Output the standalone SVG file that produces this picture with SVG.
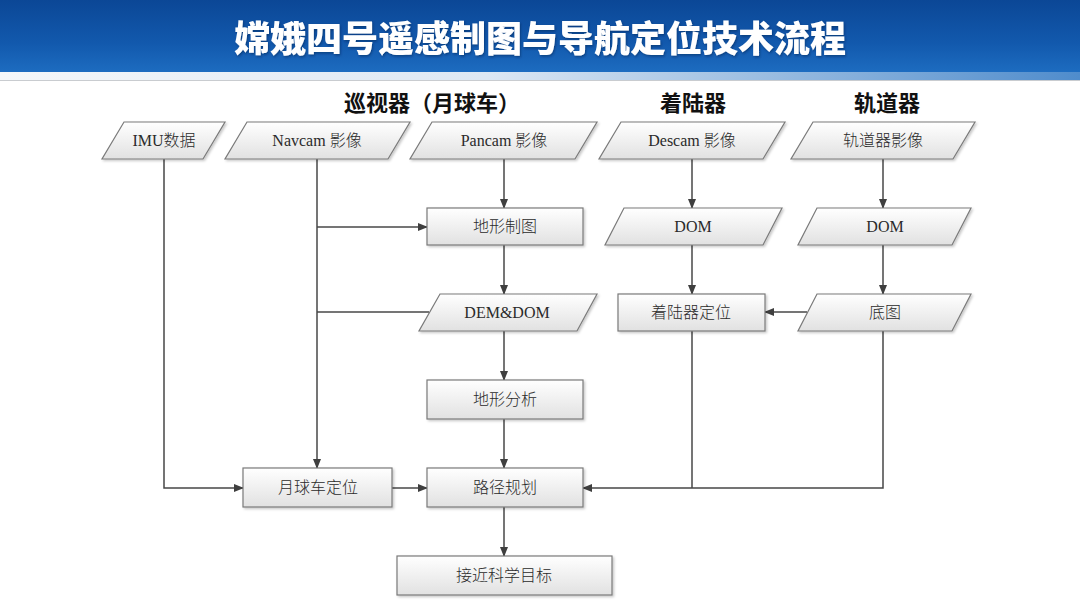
<svg xmlns="http://www.w3.org/2000/svg" width="1080" height="608" viewBox="0 0 1080 608">
<defs>
<linearGradient id="hdr" x1="0" y1="0" x2="0" y2="1">
<stop offset="0" stop-color="#0b4796"/>
<stop offset="0.6" stop-color="#1259ad"/>
<stop offset="1" stop-color="#1d6cc0"/>
</linearGradient>
<linearGradient id="strip" x1="0" y1="0" x2="1" y2="0">
<stop offset="0" stop-color="#f4f7fa"/>
<stop offset="0.45" stop-color="#dde8f4"/>
<stop offset="1" stop-color="#4f8ccc"/>
</linearGradient>
<linearGradient id="box" x1="0" y1="0" x2="0" y2="1">
<stop offset="0" stop-color="#ffffff"/>
<stop offset="1" stop-color="#e1e1e1"/>
</linearGradient>
<filter id="sh" x="-10%" y="-20%" width="125%" height="150%">
<feDropShadow dx="1.5" dy="1.5" stdDeviation="1.2" flood-color="#000" flood-opacity="0.22"/>
</filter>
<filter id="tsh" x="-5%" y="-20%" width="110%" height="150%">
<feDropShadow dx="1" dy="1.5" stdDeviation="1" flood-color="#002050" flood-opacity="0.5"/>
</filter>
<marker id="arr" markerWidth="10" markerHeight="10" refX="9" refY="5" orient="auto" markerUnits="userSpaceOnUse">
<path d="M0,1 L10,5 L0,9 Z" fill="#3f3f3f"/>
</marker>
<style>
.b{fill:url(#box);stroke:#7a7a7a;stroke-width:1.2;filter:url(#sh)}
.t{font-family:"Liberation Serif","Noto Sans CJK SC",serif;font-size:16px;font-weight:300;fill:#2a2a2a;text-anchor:middle}
.h{font-family:"Noto Sans CJK SC","Liberation Sans",sans-serif;font-size:22px;font-weight:bold;fill:#111;text-anchor:middle}
.c{fill:none;stroke:#474747;stroke-width:1.5}
.a{marker-end:url(#arr)}
</style>
</defs>
<rect x="0" y="0" width="1080" height="608" fill="#ffffff"/>
<g id="header">
<rect x="0" y="0" width="1080" height="72" fill="url(#hdr)"/>
<rect x="0" y="72" width="1080" height="8" fill="url(#strip)"/>
<line x1="0" y1="80.5" x2="1080" y2="80.5" stroke="#c9ccd0" stroke-width="1"/>
<text x="540" y="52" font-family="Noto Sans CJK SC, sans-serif" font-size="36" font-weight="900" fill="#ffffff" text-anchor="middle" filter="url(#tsh)">嫦娥四号遥感制图与导航定位技术流程</text>
</g>
<g id="col-headers">
<text class="h" x="432" y="111">巡视器（月球车）</text>
<text class="h" x="693" y="111">着陆器</text>
<text class="h" x="887" y="111">轨道器</text>
</g>
<g id="connectors">
<path class="c a" d="M164,159 V488 H243"/>
<path class="c a" d="M317,159 V468"/>
<path class="c a" d="M317,227 H427"/>
<path class="c" d="M317,312 H429"/>
<path class="c a" d="M504,159 V208"/>
<path class="c a" d="M504,245 V294"/>
<path class="c a" d="M504,331 V380"/>
<path class="c a" d="M504,419 V468"/>
<path class="c a" d="M392,488 H427"/>
<path class="c a" d="M504,507 V556"/>
<path class="c a" d="M692,159 V208"/>
<path class="c a" d="M692,245 V294"/>
<path class="c a" d="M883,159 V208"/>
<path class="c a" d="M883,245 V294"/>
<path class="c a" d="M807,312 H765"/>
<path class="c" d="M692,331 V488"/>
<path class="c a" d="M883,331 V488 H583"/>
</g>
<g id="imu">
<polygon class="b" points="124,122 225,122 203,159 102,159"/>
<text class="t" x="164" y="146">IMU数据</text>
</g>
<g id="navcam">
<polygon class="b" points="247,122 410,122 388,159 225,159"/>
<text class="t" x="317" y="146">Navcam 影像</text>
</g>
<g id="pancam">
<polygon class="b" points="432,122 597,122 575,159 410,159"/>
<text class="t" x="504" y="146">Pancam 影像</text>
</g>
<g id="descam">
<polygon class="b" points="621,122 785,122 763,159 599,159"/>
<text class="t" x="692" y="146">Descam 影像</text>
</g>
<g id="orbiter-img">
<polygon class="b" points="813,122 975,122 953,159 791,159"/>
<text class="t" x="883" y="146">轨道器影像</text>
</g>
<g id="terrain-map">
<rect class="b" x="427" y="208" width="156" height="37"/>
<text class="t" x="505" y="232">地形制图</text>
</g>
<g id="dom-lander">
<polygon class="b" points="624,208 782,208 763,245 605,245"/>
<text class="t" x="693" y="232">DOM</text>
</g>
<g id="dom-orbiter">
<polygon class="b" points="817,208 971,208 952,245 798,245"/>
<text class="t" x="885" y="232">DOM</text>
</g>
<g id="dem-dom">
<polygon class="b" points="440,294 597,294 577,331 419,331"/>
<text class="t" x="507" y="318">DEM&amp;DOM</text>
</g>
<g id="lander-loc">
<rect class="b" x="618" y="294" width="147" height="37"/>
<text class="t" x="691" y="318">着陆器定位</text>
</g>
<g id="basemap">
<polygon class="b" points="817,294 971,294 952,331 798,331"/>
<text class="t" x="885" y="318">底图</text>
</g>
<g id="terrain-analysis">
<rect class="b" x="427" y="380" width="156" height="39"/>
<text class="t" x="505" y="405">地形分析</text>
</g>
<g id="rover-loc">
<rect class="b" x="243" y="468" width="149" height="39"/>
<text class="t" x="318" y="493">月球车定位</text>
</g>
<g id="path-plan">
<rect class="b" x="427" y="468" width="156" height="39"/>
<text class="t" x="505" y="493">路径规划</text>
</g>
<g id="approach">
<rect class="b" x="397" y="556" width="215" height="39"/>
<text class="t" x="504" y="581">接近科学目标</text>
</g>
</svg>
